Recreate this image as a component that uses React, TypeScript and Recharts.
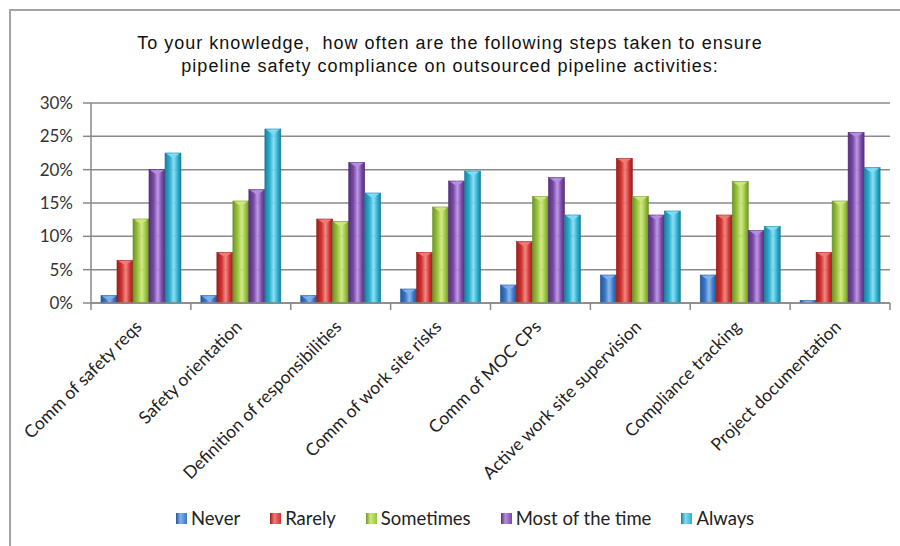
import React from 'react';
import { BarChart, Bar, XAxis, YAxis, CartesianGrid, Legend } from 'recharts';

const categories = [
  'Comm of safety reqs',
  'Safety orientation',
  'Definition of responsibilities',
  'Comm of work site risks',
  'Comm of MOC CPs',
  'Active work site supervision',
  'Compliance tracking',
  'Project documentation',
];

const never = [1.1, 1.1, 1.1, 2.1, 2.7, 4.2, 4.2, 0.4];
const rarely = [6.4, 7.6, 12.6, 7.6, 9.2, 21.7, 13.2, 7.6];
const sometimes = [12.6, 15.3, 12.2, 14.4, 16.0, 16.0, 18.2, 15.3];
const mostOfTheTime = [20.0, 17.0, 21.1, 18.3, 18.8, 13.2, 10.9, 25.6];
const always = [22.5, 26.1, 16.5, 19.8, 13.2, 13.8, 11.5, 20.3];

const yTicks = [0, 5, 10, 15, 20, 25, 30];

const seriesList = [
  { key: 'never', name: 'Never', values: never, color: '#3a78c6', light: '#7fb0ec', dark: '#24569a' },
  { key: 'rarely', name: 'Rarely', values: rarely, color: '#cf3330', light: '#f07a76', dark: '#9a1f1d' },
  { key: 'sometimes', name: 'Sometimes', values: sometimes, color: '#9ac43c', light: '#cde67f', dark: '#6f9428' },
  { key: 'most', name: 'Most of the time', values: mostOfTheTime, color: '#7b4aa8', light: '#b58ee0', dark: '#54307a' },
  { key: 'always', name: 'Always', values: always, color: '#2eaed0', light: '#7fdcf2', dark: '#1a7f9c' },
];

const data = categories.map((name, i) => {
  const row: Record<string, string | number> = { name };
  seriesList.forEach(s => {
    row[s.key] = s.values[i];
  });
  return row;
});

const FONT = 'Lato, "Open Sans", sans-serif';

function makeBarShape(s: typeof seriesList[number]) {
  return (props: any) => {
    const { x, y, width, height } = props;
    if (!height || height <= 0) return <g />;
    const cap = Math.min(5, height);
    return (
      <g>
        <rect x={x} y={y} width={width} height={height} fill={`url(#grad-${s.key})`} stroke={s.dark} strokeWidth={0.6} />
        <polygon
          points={`${x + 1},${y + 0.5} ${x + width - 1},${y + 0.5} ${x + width / 2},${y + cap}`}
          fill={s.light}
        />
      </g>
    );
  };
}

function XTick(props: any) {
  const { x, y, payload, index } = props;
  const half = payload.offset || 0;
  const tx = x + 2;
  const ty = y + 17;
  return (
    <g>
      <line x1={x - half} y1={y - 8} x2={x - half} y2={y - 1} stroke="#888" strokeWidth={1.5} />
      {index === categories.length - 1 && (
        <line x1={x + half} y1={y - 8} x2={x + half} y2={y - 1} stroke="#888" strokeWidth={1.5} />
      )}
      <text
        x={tx}
        y={ty}
        textAnchor="end"
        transform={`rotate(-45, ${tx}, ${ty})`}
        fontFamily={FONT}
        fontSize={17.5}
        fill="#222"
      >
        {payload.value}
      </text>
    </g>
  );
}

function LegendContent() {
  return (
    <div style={{ display: 'flex', justifyContent: 'center', gap: 30, fontFamily: FONT, fontSize: 18.5, color: '#222' }}>
      {seriesList.map(s => (
        <div key={s.key} style={{ display: 'flex', alignItems: 'center' }}>
          <span
            style={{
              display: 'inline-block',
              width: 11,
              height: 11,
              marginRight: 4,
              background: `linear-gradient(90deg, ${s.dark}, ${s.light} 40%, ${s.color})`,
            }}
          />
          {s.name}
        </div>
      ))}
    </div>
  );
}

export default function App() {
  return (
    <div style={{ position: 'relative', width: 900, height: 546, background: '#fff', overflow: 'hidden' }}>
      <style>{'body{margin:0;}'}</style>
      <div
        style={{
          position: 'absolute',
          left: 9,
          top: 9,
          width: 900,
          height: 560,
          border: '2px solid #a3a3a3',
          boxSizing: 'border-box',
        }}
      />
      <div
        style={{
          position: 'absolute',
          left: 0,
          top: 32,
          width: 900,
          textAlign: 'center',
          fontFamily: '"Liberation Sans", Arial, sans-serif',
          fontSize: 18,
          letterSpacing: 1,
          lineHeight: '23px',
          color: '#111',
        }}
      >
        To your knowledge,&nbsp; how often are the following steps taken to ensure
        <br />
        pipeline safety compliance on outsourced pipeline activities:
      </div>
      <BarChart
        width={900}
        height={546}
        data={data}
        margin={{ top: 103, right: 10, left: 0, bottom: 0 }}
        barCategoryGap="10%"
        barGap={0}
        style={{ position: 'absolute', left: 0, top: 0 }}
      >
        <defs>
          {seriesList.map(s => (
            <linearGradient key={s.key} id={`grad-${s.key}`} x1="0" y1="0" x2="1" y2="0">
              <stop offset="0%" stopColor={s.dark} />
              <stop offset="30%" stopColor={s.color} />
              <stop offset="55%" stopColor={s.light} stopOpacity={0.9} />
              <stop offset="80%" stopColor={s.color} />
              <stop offset="100%" stopColor={s.dark} />
            </linearGradient>
          ))}
        </defs>
        <CartesianGrid vertical={false} stroke="#8a8a8a" strokeWidth={1.5} />
        <XAxis
          dataKey="name"
          interval={0}
          height={243}
          axisLine={{ stroke: '#888', strokeWidth: 1.5 }}
          tickLine={false}
          tick={<XTick />}
        />
        <YAxis
          width={91}
          domain={[0, 30]}
          ticks={yTicks}
          tickFormatter={(v: number) => `${v}%`}
          axisLine={{ stroke: '#888', strokeWidth: 1.5 }}
          tickLine={{ stroke: '#888', strokeWidth: 1.5 }}
          tickSize={8}
          tickMargin={10}
          tick={{ fontFamily: FONT, fontSize: 17, fill: '#333' }}
        />
        <Legend
          layout="horizontal"
          verticalAlign="middle"
          align="center"
          content={<LegendContent />}
          wrapperStyle={{ position: 'absolute', top: 507, left: 15, width: 900 }}
        />
        {seriesList.map(s => (
          <Bar
            key={s.key}
            dataKey={s.key}
            name={s.name}
            fill={s.color}
            shape={makeBarShape(s)}
            isAnimationActive={false}
          />
        ))}
      </BarChart>
    </div>
  );
}
